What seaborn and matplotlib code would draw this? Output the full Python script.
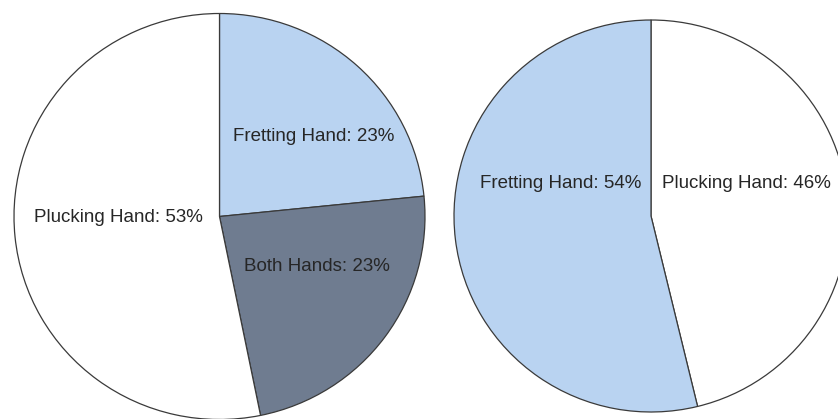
import matplotlib
matplotlib.use("Agg")
import matplotlib.pyplot as plt
import seaborn as sns

# Share of injuries by hand, two survey groups
left_names = ["Fretting Hand", "Both Hands", "Plucking Hand"]
left_values = [23.4, 23.4, 53.2]
right_names = ["Plucking Hand", "Fretting Hand"]
right_values = [46.2, 53.8]

LIGHT_BLUE = "#b9d3f1"
SLATE = "#6f7c90"
WHITE = "#ffffff"
left_colors = [LIGHT_BLUE, SLATE, WHITE]
right_colors = [WHITE, LIGHT_BLUE]

# label anchor points inside each pie (in units of the pie radius)
left_label_pos = [(0.457, 0.395), (0.475, -0.245), (-0.49, -0.003)]
right_label_pos = [(0.485, 0.168), (-0.457, 0.168)]

sns.set_theme(style="white")
plt.rcParams["font.family"] = ["Liberation Sans", "DejaVu Sans"]

W, H = 838, 419
LIM = 1.02
fig = plt.figure(figsize=(W / 100, H / 100), dpi=100)
fig.patch.set_facecolor("white")


def make_axes(cx, cy, rx, ry):
    # axes box so the unit pie is centred at pixel (cx, cy) with radii rx, ry
    ex, ey = rx * LIM, ry * LIM
    left = (cx - ex) / W
    bottom = (H - (cy + ey)) / H
    return fig.add_axes([left, bottom, 2 * ex / W, 2 * ey / H])


def draw_pie(ax, names, values, colors, label_pos):
    ax.pie(values, colors=colors, startangle=90, counterclock=False,
           radius=1.0,
           wedgeprops=dict(edgecolor="#3a3a3a", linewidth=0.9))
    for name, v, (x, y) in zip(names, values, label_pos):
        ax.text(x, y, f"{name}: {v:.0f}%", ha="center", va="center",
                fontsize=13.5, color="#262626")
    ax.set_aspect("auto")
    ax.set_xlim(-LIM, LIM)
    ax.set_ylim(-LIM, LIM)
    ax.axis("off")


ax1 = make_axes(219.5, 216.5, 205.5, 203)
draw_pie(ax1, left_names, left_values, left_colors, left_label_pos)

ax2 = make_axes(651, 216, 197, 196)
draw_pie(ax2, right_names, right_values, right_colors, right_label_pos)

fig.savefig("out.png", dpi=100, facecolor="white")
